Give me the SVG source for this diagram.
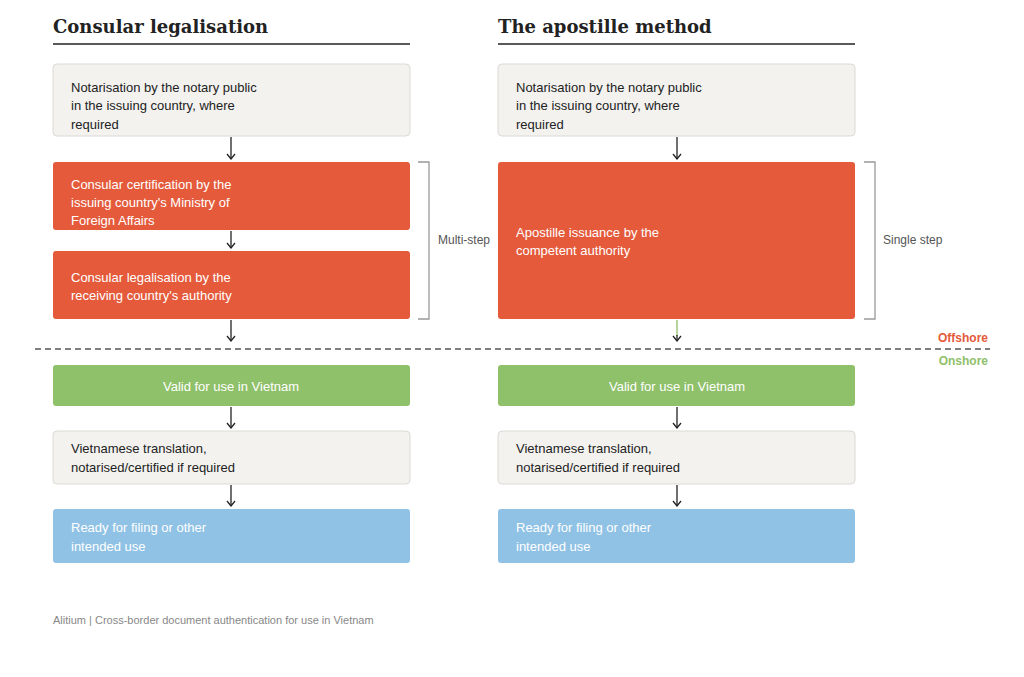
<svg xmlns="http://www.w3.org/2000/svg" width="1024" height="677" viewBox="0 0 1024 677">
<style>
.t{font-family:"Liberation Sans",Arial,sans-serif;font-size:13px;fill:#222}
.w{font-family:"Liberation Sans",Arial,sans-serif;font-size:13px;fill:#fff}
.h{font-family:"DejaVu Serif",serif;font-size:18px;font-weight:bold;fill:#222}
.g{fill:#f3f2ef;stroke:#dcdad4;stroke-width:1}
.r{fill:#e45a3b}
.gr{fill:#8fc06a}
.b{fill:#90c2e5}
.a{stroke:#222;stroke-width:1.3;fill:none}
.br{stroke:#999;stroke-width:1.3;fill:none}
.s{font-family:"Liberation Sans",Arial,sans-serif;font-size:12px;fill:#555}
</style>
<defs>
<marker id="m" viewBox="0 0 10 10" refX="9" refY="5" markerWidth="10" markerHeight="10" markerUnits="userSpaceOnUse" orient="auto"><path d="M4,1 L9,5 L4,9" fill="none" stroke="#222" stroke-width="1.3"/></marker></defs>
<rect width="1024" height="677" fill="#fff"/>
<text class="h" x="53" y="33">Consular legalisation</text>
<line x1="53" y1="44" x2="410" y2="44" stroke="#222" stroke-width="1.5"/>
<text class="h" x="498" y="33">The apostille method</text>
<line x1="498" y1="44" x2="855" y2="44" stroke="#222" stroke-width="1.5"/>
<g id="l1"><rect class="g" x="53" y="64" width="357" height="72" rx="4"/><text class="t" x="71" y="92">Notarisation by the notary public</text><text class="t" x="71" y="110">in the issuing country, where</text><text class="t" x="71" y="129">required</text></g>
<g id="l2"><rect class="r" x="53" y="162" width="357" height="68" rx="3"/><text class="w" x="71" y="189">Consular certification by the</text><text class="w" x="71" y="207">issuing country's Ministry of</text><text class="w" x="71" y="225">Foreign Affairs</text></g>
<g id="l3"><rect class="r" x="53" y="251" width="357" height="68" rx="3"/><text class="w" x="71" y="282">Consular legalisation by the</text><text class="w" x="71" y="300">receiving country's authority</text></g>
<g id="l4"><rect class="gr" x="53" y="365" width="357" height="41" rx="3"/><text class="w" x="231" y="391" text-anchor="middle">Valid for use in Vietnam</text></g>
<g id="l5"><rect class="g" x="53" y="431" width="357" height="53" rx="4"/><text class="t" x="71" y="453">Vietnamese translation,</text><text class="t" x="71" y="472">notarised/certified if required</text></g>
<g id="l6"><rect class="b" x="53" y="509" width="357" height="54" rx="3"/><text class="w" x="71" y="532">Ready for filing or other</text><text class="w" x="71" y="551">intended use</text></g>
<g id="r1"><rect class="g" x="498" y="64" width="357" height="72" rx="4"/><text class="t" x="516" y="92">Notarisation by the notary public</text><text class="t" x="516" y="110">in the issuing country, where</text><text class="t" x="516" y="129">required</text></g>
<g id="r2"><rect class="r" x="498" y="162" width="357" height="157" rx="3"/><text class="w" x="516" y="237">Apostille issuance by the</text><text class="w" x="516" y="255">competent authority</text></g>
<g id="r4"><rect class="gr" x="498" y="365" width="357" height="41" rx="3"/><text class="w" x="677" y="391" text-anchor="middle">Valid for use in Vietnam</text></g>
<g id="r5"><rect class="g" x="498" y="431" width="357" height="53" rx="4"/><text class="t" x="516" y="453">Vietnamese translation,</text><text class="t" x="516" y="472">notarised/certified if required</text></g>
<g id="r6"><rect class="b" x="498" y="509" width="357" height="54" rx="3"/><text class="w" x="516" y="532">Ready for filing or other</text><text class="w" x="516" y="551">intended use</text></g>
<g id="connectors">
<line class="a" x1="231" y1="137" x2="231" y2="159" marker-end="url(#m)"/>
<line class="a" x1="231" y1="231" x2="231" y2="248" marker-end="url(#m)"/>
<line class="a" x1="231" y1="320" x2="231" y2="341" marker-end="url(#m)"/>
<line class="a" x1="231" y1="407" x2="231" y2="428" marker-end="url(#m)"/>
<line class="a" x1="231" y1="485" x2="231" y2="506" marker-end="url(#m)"/>
<line class="a" x1="677" y1="137" x2="677" y2="159" marker-end="url(#m)"/>
<line x1="677" y1="320" x2="677" y2="336" stroke="#8fc06a" stroke-width="1.3"/>
<line class="a" x1="677" y1="335" x2="677" y2="341" marker-end="url(#m)"/>
<line class="a" x1="677" y1="407" x2="677" y2="428" marker-end="url(#m)"/>
<line class="a" x1="677" y1="485" x2="677" y2="506" marker-end="url(#m)"/>
</g>
<path class="br" d="M418,162 H429 V319 H418"/>
<text class="s" x="438" y="244">Multi-step</text>
<path class="br" d="M864,162 H875 V319 H864"/>
<text class="s" x="883" y="244">Single step</text>
<line x1="35" y1="349" x2="990" y2="349" stroke="#555" stroke-width="1.3" stroke-dasharray="6,4"/>
<text x="988" y="342" text-anchor="end" font-family="Liberation Sans,Arial,sans-serif" font-size="12" font-weight="bold" fill="#e45a3b">Offshore</text>
<text x="988" y="365" text-anchor="end" font-family="Liberation Sans,Arial,sans-serif" font-size="12" font-weight="bold" fill="#8fc06a">Onshore</text>
<text x="53" y="624" font-family="Liberation Sans,Arial,sans-serif" font-size="11" fill="#888">Alitium | Cross-border document authentication for use in Vietnam</text>
</svg>
